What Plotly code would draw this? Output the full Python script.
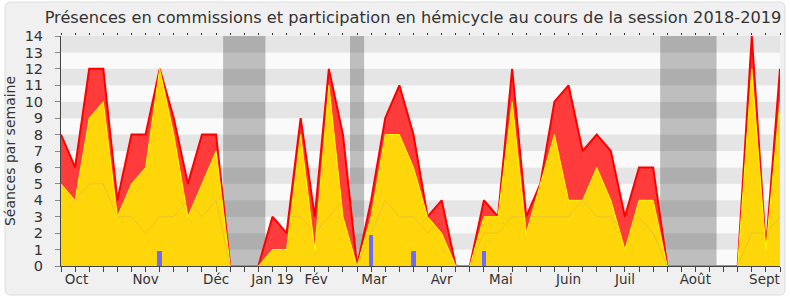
import plotly.graph_objects as go

# ---- data (weekly, session 2018-2019) ----
weeks = list(range(52))
commissions_total = [8, 6, 12, 12, 4, 8, 8, 12, 9, 5,
                     8, 8, 0, 0, 0, 3, 2, 9, 3, 12,
                     8, 0, 4, 9, 11, 8, 3, 4, 0, 0,
                     4, 3, 12, 3, 5, 10, 11, 7, 8, 7,
                     3, 6, 6, 0, 0, 0, 0, 0, 0, 14,
                     1, 12]
hemicycle = [5, 4, 9, 10, 3, 5, 6, 12, 8, 3,
             5, 7, 0, 0, 0, 1, 1, 8, 1, 11,
             3, 0, 3, 8, 8, 6, 3, 2, 0, 0,
             3, 3, 10, 2, 5, 8, 4, 4, 6, 4,
             1, 4, 4, 0, 0, 0, 0, 0, 0, 12,
             1, 10]
mediane = [5, 4, 5, 5, 3, 3, 2, 3, 3, 4,
           3, 4, 0, 0, 0, 2, 3, 3, 2, 3,
           4, 0, 2, 4, 3, 3, 2, 3, 0, 0,
           2, 2, 3, 3, 3, 3, 3, 4, 3, 3,
           2, 3, 2, 0, 0, 0, 0, 0, 0, 2,
           2, 3]
questions_weeks = [7, 22, 25, 30]
questions_vals = [0.9, 1.9, 0.9, 0.9]
vacances = [(11.5, 14.5), (20.5, 21.5), (42.5, 46.5)]
month_pos = [1.1, 6, 11, 15, 18.1, 22.2, 27, 31.2, 36, 40, 45, 49.9]
month_labels = ["Oct", "Nov", "Déc", "Jan 19", "Fév", "Mar", "Avr", "Mai",
                "Juin", "Juil", "Août", "Sept"]
y_ticks = list(range(15))

FONT = "DejaVu Sans"
TXT = "#333333"

fig = go.Figure()
fig.add_trace(go.Scatter(x=weeks, y=commissions_total, mode="lines", fill="tozeroy",
                         fillcolor="#ff3b3b", line=dict(color="#ff0000", width=2),
                         hoverinfo="skip", showlegend=False))
fig.add_trace(go.Scatter(x=weeks, y=hemicycle, mode="lines", fill="tozeroy",
                         fillcolor="#ffd60a", line=dict(color="#ffff00", width=1),
                         hoverinfo="skip", showlegend=False))
fig.add_trace(go.Scatter(x=weeks, y=mediane, mode="lines",
                         line=dict(color="rgba(140,140,140,0.22)", width=1),
                         hoverinfo="skip", showlegend=False))
fig.add_trace(go.Bar(x=questions_weeks, y=questions_vals, width=0.33,
                     marker=dict(color="#6b6bff", line=dict(width=0)),
                     xaxis="x2", hoverinfo="skip", showlegend=False))
fig.add_trace(go.Scatter(x=[], y=[], xaxis="x3", showlegend=False, hoverinfo="skip"))

# background stripes, vacation bands
shapes = []
for i in range(14):
    shapes.append(dict(type="rect", xref="x", yref="y", x0=0, x1=51, y0=i, y1=i + 1,
                       fillcolor="#e5e5e5" if i % 2 == 1 else "#fafafa",
                       line=dict(width=0), layer="below"))
for a, b in vacances:
    shapes.append(dict(type="rect", xref="x", yref="y", x0=a, x1=b, y0=0, y1=14,
                       fillcolor="rgba(0,0,0,0.24)", line=dict(width=0), layer="below"))

# rounded outer frame (pixel coordinates -> paper coordinates)
L, T, PW, PH = 61, 36, 719, 230
def px(x):
    return (x - L) / PW
def py(y):
    return (T + PH - y) / PH
x0f, x1f, y0f, y1f, r = 5, 785, 2, 295, 6
path = (f"M {px(x0f + r)} {py(y0f)} L {px(x1f - r)} {py(y0f)} "
        f"Q {px(x1f)} {py(y0f)} {px(x1f)} {py(y0f + r)} "
        f"L {px(x1f)} {py(y1f - r)} Q {px(x1f)} {py(y1f)} {px(x1f - r)} {py(y1f)} "
        f"L {px(x0f + r)} {py(y1f)} Q {px(x0f)} {py(y1f)} {px(x0f)} {py(y1f - r)} "
        f"L {px(x0f)} {py(y0f + r)} Q {px(x0f)} {py(y0f)} {px(x0f + r)} {py(y0f)} Z")
shapes.insert(0, dict(type="path", xref="paper", yref="paper", path=path,
                      fillcolor="#f0f0f0", line=dict(color="#dcdcdc", width=1),
                      layer="below"))

fig.update_layout(
    width=790, height=300,
    margin=dict(l=L, r=790 - L - PW, t=T, b=300 - T - PH),
    paper_bgcolor="white", plot_bgcolor="rgba(0,0,0,0)",
    font=dict(family=FONT, color=TXT, size=13),
    title=dict(text="Présences en commissions et participation en hémicycle au cours de la session 2018-2019",
               x=413 / 790, xanchor="center", y=1 - 17 / 300, yanchor="middle",
               font=dict(family=FONT, size=16.2, color=TXT)),
    shapes=shapes,
    bargap=0,
    xaxis=dict(range=[0, 51], tickvals=weeks, showticklabels=False, ticks="outside",
               ticklen=5, tickcolor="#444", showline=True, linecolor="#444",
               linewidth=1, showgrid=False, zeroline=False, fixedrange=True),
    xaxis2=dict(range=[0, 51], overlaying="x", anchor="y", side="bottom",
                tickvals=month_pos, ticktext=month_labels, ticks="",
                showline=False, showgrid=False, zeroline=False,
                tickfont=dict(family=FONT, size=13.5, color=TXT),
                ticklabelstandoff=3, fixedrange=True),
    xaxis3=dict(range=[0, 51], overlaying="x", anchor="y", side="top",
                tickvals=weeks, showticklabels=False, ticks="outside", ticklen=2,
                tickcolor="#333", showline=False, showgrid=False, zeroline=False,
                fixedrange=True),
    yaxis=dict(range=[0, 14], tickvals=y_ticks, ticks="outside", ticklen=5,
               tickcolor="#888", showline=True, linecolor="#444", linewidth=1,
               showgrid=False, zeroline=False,
               tickfont=dict(family=FONT, size=14.5, color=TXT),
               ticklabelstandoff=9,
               title=dict(text="Séances par semaine", standoff=5,
                          font=dict(family=FONT, size=14, color=TXT)),
               fixedrange=True),
)

fig.write_html("out.html")
